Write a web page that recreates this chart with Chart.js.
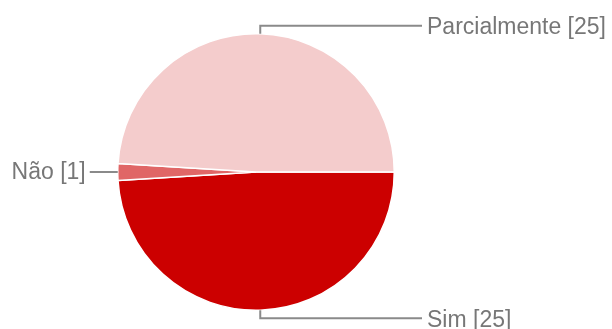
<!DOCTYPE html>
<html>
<head>
<meta charset="utf-8">
<script src="https://cdn.jsdelivr.net/npm/chart.js@4/dist/chart.umd.min.js"></script>
<style>
  html, body { margin: 0; padding: 0; background: #fff; }
  #wrap { width: 612px; height: 329px; position: relative; }
</style>
</head>
<body>
<div id="wrap"><canvas id="pieChart"></canvas></div>
<script>
const categories = ['Sim', 'Não', 'Parcialmente'];
const counts = [25, 1, 25];
const sliceColors = ['#cc0000', '#e06666', '#f4cccc'];

// leader lines + labels drawn next to the slices
const leaderLabels = {
    id: 'leaderLabels',
    afterDraw(chart) {
        const ctx = chart.ctx;
        const meta = chart.getDatasetMeta(0);
        ctx.save();
        ctx.strokeStyle = '#8a8a8a';
        ctx.lineWidth = 2;
        ctx.fillStyle = '#777777';
        ctx.font = '23px "Liberation Sans", Arial, sans-serif';
        ctx.textBaseline = 'middle';
        meta.data.forEach(function (arc, i) {
            const p = arc.getProps(['x', 'y', 'startAngle', 'endAngle', 'outerRadius'], true);
            const mid = (p.startAngle + p.endAngle) / 2;
            const ex = p.x + Math.cos(mid) * p.outerRadius;
            const ey = p.y + Math.sin(mid) * p.outerRadius;
            const text = categories[i] + ' [' + counts[i] + ']';
            ctx.beginPath();
            if (Math.cos(mid) < -0.5) {
                const endX = ex - 28;
                ctx.moveTo(ex, ey);
                ctx.lineTo(endX, ey);
                ctx.stroke();
                ctx.textAlign = 'right';
                ctx.fillText(text, endX - 4, ey + 1);
            } else {
                const dir = Math.sin(mid) < 0 ? -1 : 1;
                const ly = ey + dir * 8;
                ctx.moveTo(ex, ey);
                ctx.lineTo(ex, ly);
                ctx.lineTo(422, ly);
                ctx.stroke();
                ctx.textAlign = 'left';
                ctx.fillText(text, 427, ly + 2);
            }
        });
        ctx.restore();
    }
};

new Chart(document.getElementById('pieChart').getContext('2d'), {
    type: 'pie',
    data: {
        labels: categories,
        datasets: [{
            data: counts,
            backgroundColor: sliceColors,
            borderColor: '#ffffff',
            borderWidth: 1.5
        }]
    },
    options: {
        responsive: true,
        maintainAspectRatio: false,
        animation: false,
        rotation: 90,
        layout: { padding: { left: 117, right: 217, top: 33, bottom: 18 } },
        plugins: {
            legend: { display: false },
            tooltip: { enabled: false }
        }
    },
    plugins: [leaderLabels]
});
</script>
</body>
</html>
